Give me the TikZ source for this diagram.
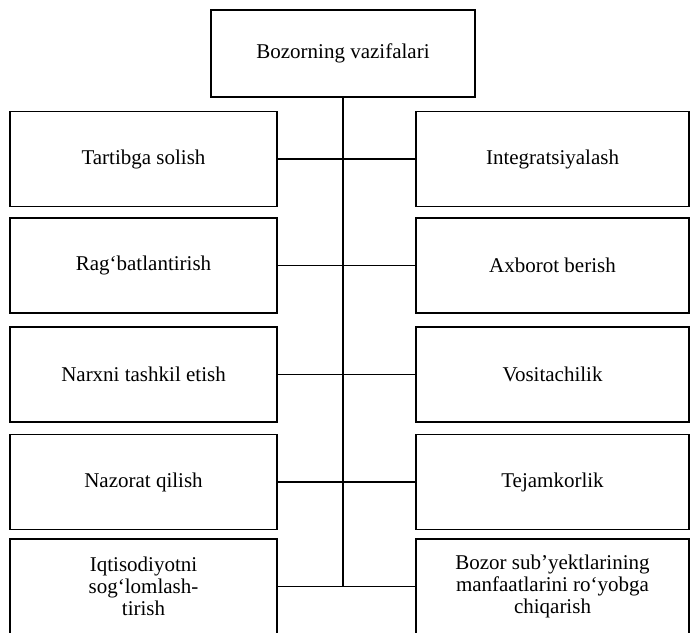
\documentclass[tikz,border=0pt]{standalone}
\usepackage{fontspec}
\setmainfont{Liberation Serif}

\begin{document}
\begin{tikzpicture}[x=0.5pt, y=-0.5pt, line width=0.9pt,
		box/.style={draw, align=center, inner sep=2pt, minimum height=47.5pt,
				font=\fontsize{10.5}{11}\selectfont},
		leftbox/.style={box, minimum width=133.5pt},
		rightbox/.style={box, minimum width=136.5pt}]

		\useasboundingbox (0,0) rectangle (690,632);

		\node[box, minimum width=132pt, minimum height=43.5pt] (top) at (343, 53.5) {Bozorning vazifalari};

		% chap ustun
		\node[leftbox] (L1) at (143.5, 159) {Tartibga solish};
		\node[leftbox] (L2) at (143.5, 265.5) {Rag‘batlantirish};
		\node[leftbox] (L3) at (143.5, 374.5) {Narxni tashkil etish};
		\node[leftbox] (L4) at (143.5, 482) {Nazorat qilish};
		\node[leftbox] (L5) at (143.5, 586.5) {Iqtisodiyotni\\sog‘lomlash-\\tirish};

		% o'ng ustun
		\node[rightbox] (R1) at (552.5, 159) {Integratsiyalash};
		\node[rightbox] (R2) at (552.5, 265.5) {Axborot berish};
		\node[rightbox] (R3) at (552.5, 374.5) {Vositachilik};
		\node[rightbox] (R4) at (552.5, 482) {Tejamkorlik};
		\node[rightbox] (R5) at (552.5, 586.5) {Bozor sub’yektlarining\\manfaatlarini ro‘yobga\\chiqarish};

		\foreach \k in {1,...,5} {
				\draw (L\k) -- (R\k);
			}

		\draw (top.south) -- (top.south |- L5.east);
	\end{tikzpicture}
\end{document}
